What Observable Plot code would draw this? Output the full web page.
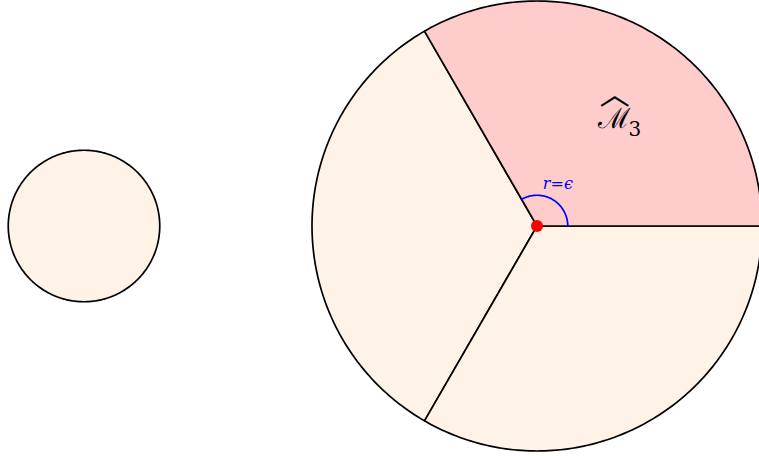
<!DOCTYPE html>
<html><head><meta charset="utf-8">
<script src="https://cdn.jsdelivr.net/npm/d3@7"></script>
<script src="https://cdn.jsdelivr.net/npm/@observablehq/plot@0.6"></script>
<style>html,body{margin:0;padding:0;background:#fff;overflow:hidden} svg{display:block}</style>
</head><body><div id="chart"></div>
<script>
// ---- data (units: small-disk radius ≈ 1) ----
const regionNames = ["M1", "M2", "M3"];
const sectorStartDeg = [120, 240, 0];
const sectorEndDeg = [240, 360, 120];
const sectorHighlighted = [false, false, true];
const bigCenter = [6.04, 0];
const bigRadius = 3.0;
const smallCenter = [0, 0];
const smallRadius = 1.01;
const epsilonRadius = 0.41;
const epsilonArcDeg = [0, 120];
const epsilonLabel = "r=ϵ";
const regionLabel = "ℳ";
const regionSub = "3";
const regionHat = "︿";

// ---- geometry helpers ----
const rad = d => d * Math.PI / 180;
function arcPoints(c, r, a0, a1) {
  const pts = [];
  for (let a = a0; a <= a1 + 1e-9; a += 1) pts.push({x: c[0] + r * Math.cos(rad(a)), y: c[1] + r * Math.sin(rad(a))});
  return pts;
}
const sectors = regionNames.map((n, i) => ({
  name: n,
  pts: [{x: bigCenter[0], y: bigCenter[1]}, ...arcPoints(bigCenter, bigRadius, sectorStartDeg[i], sectorEndDeg[i])],
  fill: sectorHighlighted[i] ? "#ffcccc" : "#fff2e6"
}));
const smallDisk = arcPoints(smallCenter, smallRadius, 0, 359);
const epsArc = arcPoints(bigCenter, epsilonRadius, epsilonArcDeg[0], epsilonArcDeg[1]);

const polar = (r, deg) => ({x: bigCenter[0] + r * Math.cos(rad(deg)), y: bigCenter[1] + r * Math.sin(rad(deg))});
const epsPos = polar(0.6, 68);
const mPos = polar(1.79, 53);

const W = 759, H = 456, S = 75, CX = 83.5, CY = 225.5;
const chart = Plot.plot({
  width: W, height: H,
  margin: 0,
  x: {domain: [-CX / S, (W - CX) / S], range: [0, W], axis: null},
  y: {domain: [-(H - CY) / S, CY / S], range: [H, 0], axis: null},
  marks: [
    Plot.line(smallDisk, {x: "x", y: "y", curve: "linear-closed", fill: "#fff2e6", stroke: "black", strokeWidth: 1.7}),
    ...sectors.map(s => Plot.line(s.pts, {x: "x", y: "y", curve: "linear-closed", fill: s.fill, stroke: "black", strokeWidth: 1.7, strokeLinejoin: "round"})),
    Plot.line(epsArc, {x: "x", y: "y", stroke: "#0000ff", strokeWidth: 1.7}),
    Plot.dot([bigCenter], {x: d => d[0], y: d => d[1], r: 6, fill: "#ff0000", stroke: "none"}),
    Plot.text([epsilonLabel], {x: epsPos.x, y: epsPos.y, dx: 4, text: d => d, fill: "#0000ff", fontSize: 16, fontStyle: "italic", fontFamily: "DejaVu Serif, serif"}),
    Plot.text([regionLabel], {x: mPos.x, y: mPos.y, dx: -4, dy: 0, text: d => d, fill: "black", fontSize: 28, fontFamily: "DejaVu Serif, serif"}),
    Plot.text([regionSub], {x: mPos.x, y: mPos.y, dx: 17, dy: 11, text: d => d, fill: "black", fontSize: 20, fontFamily: "DejaVu Serif, serif"}),
    Plot.text([regionHat], {x: mPos.x, y: mPos.y, dx: -3, dy: -24, text: d => d, fill: "black", fontSize: 30, fontFamily: "Noto Sans CJK SC"})
  ]
});
document.getElementById("chart").append(chart);
</script>
</body></html>
